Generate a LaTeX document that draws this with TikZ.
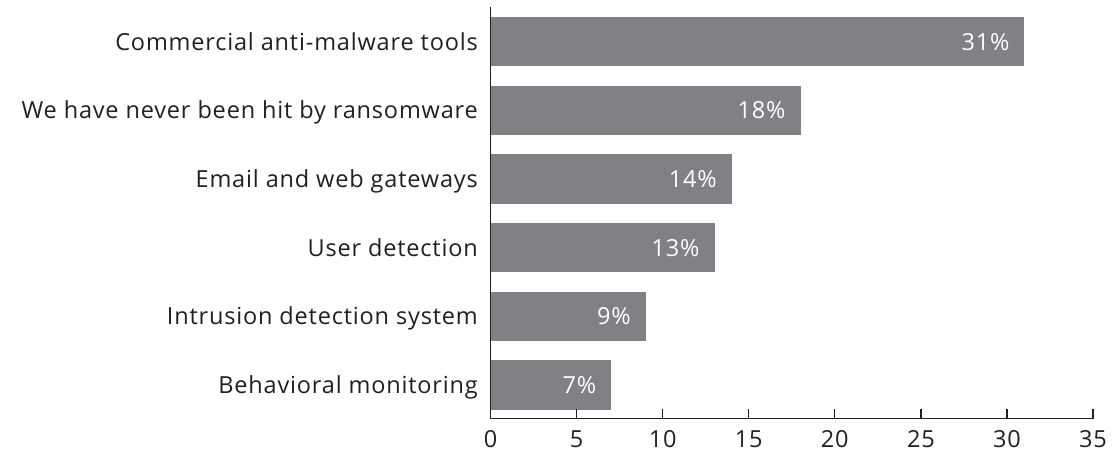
\documentclass[tikz,border=0pt]{standalone}
\usepackage{fontspec}
\setmainfont{Open Sans}[LetterSpace=3.5]
\definecolor{barfill}{HTML}{808184}
\definecolor{ink}{HTML}{231F20}
\begin{document}
\begin{tikzpicture}[x=1pt,y=-1pt,
  bar/.style={fill=barfill,draw=none,inner sep=0pt,minimum height=49.5pt,anchor=west},
  cat/.style={anchor=base east,text=ink,font=\fontsize{23.5}{28}\selectfont,inner sep=0pt},
  pct/.style={anchor=base east,text=white,font=\fontsize{23.5}{28}\selectfont,inner sep=0pt},
  ticklab/.style={anchor=base,text=ink,font=\fontsize{23.5}{28}\selectfont,inner sep=0pt},
  axisline/.style={draw=ink,line width=1.3pt}]
\useasboundingbox (0,0) rectangle (1115,453);
\def\u{17.215}
\def\xo{490.5}
% bars, category labels and value labels
\foreach \i/\v/\lab in {0/31/Commercial anti-malware tools,
                        1/18/We have never been hit by ransomware,
                        2/14/Email and web gateways,
                        3/13/User detection,
                        4/9/Intrusion detection system,
                        5/7/Behavioral monitoring}{
  \pgfmathsetmacro\yc{41.7+68.66*\i}
  \node[bar,minimum width=\v*\u pt] (b\i) at (\xo,\yc) {};
  \node[cat] (c\i) at (478,\yc+8.5) {\lab};
  \node[pct] (p\i) at ([xshift=-15pt,yshift=-8.5pt]b\i.east) {\v\%};
}
% axes
\coordinate (top) at (\xo,7);
\coordinate (org) at (\xo,418.7);
\coordinate (xend) at (\xo+35*\u,418.7);
\draw[axisline] (top) -- (org) -- (xend);
\foreach \t in {0,5,...,35}{
  \coordinate (t\t) at (\xo+\t*\u,418.7);
  \draw[axisline] (t\t) -- ++(0,-9.7);
  \node[ticklab] (l\t) at ([yshift=-28.3pt]t\t) {\t};
}
\end{tikzpicture}
\end{document}
